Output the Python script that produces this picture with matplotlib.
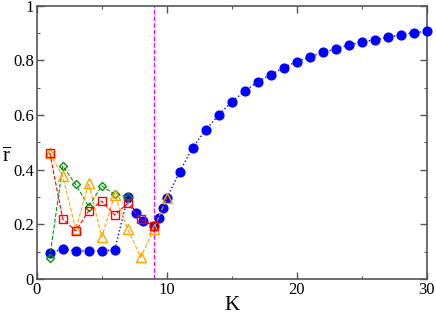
import matplotlib
matplotlib.use('Agg')
import matplotlib.pyplot as plt
from matplotlib.ticker import MultipleLocator

plt.rcParams['font.family'] = ['Liberation Serif', 'DejaVu Serif']
plt.rcParams['mathtext.fontset'] = 'custom'
plt.rcParams['mathtext.rm'] = 'Liberation Serif'
plt.rcParams['mathtext.it'] = 'Liberation Serif:italic'

# order parameter r-bar vs coupling K
k_blue = [1, 2, 3, 4, 5, 6, 7, 7.6, 8.2, 9.0, 9.4, 9.7, 10, 11, 12, 13, 14, 15,
          16, 17, 18, 19, 20, 21, 22, 23, 24, 25, 26, 27, 28, 29, 30]
r_blue = [0.096, 0.109, 0.103, 0.103, 0.103, 0.106, 0.300, 0.242, 0.212, 0.195,
          0.223, 0.261, 0.295, 0.393, 0.481, 0.546, 0.600, 0.648, 0.687, 0.722,
          0.748, 0.773, 0.795, 0.812, 0.829, 0.842, 0.856, 0.867, 0.875, 0.884,
          0.894, 0.901, 0.906]

k_green = [1, 2, 3, 4, 5, 6, 7]
r_green = [0.078, 0.413, 0.346, 0.265, 0.341, 0.310, 0.301]

k_orange = [1, 2, 3, 4, 5, 6, 7, 8, 9, 10]
r_orange = [0.460, 0.377, 0.182, 0.350, 0.153, 0.307, 0.183, 0.079, 0.182, 0.295]

k_red = [1, 2, 3, 4, 5, 6, 7, 8, 9]
r_red = [0.462, 0.220, 0.176, 0.249, 0.285, 0.234, 0.277, 0.218, 0.194]

k_c = 9.05

fig = plt.figure(figsize=(4.36, 3.15), dpi=100)
ax = fig.add_axes([0.0842, 0.1143, 0.8945, 0.8677])

ax.plot(k_blue, r_blue, ':', color='#0000ff', lw=1, marker='o', ms=6.3,
        mfc='#0000ff', mec='#0000ff', clip_on=False, zorder=3)
ax.plot(k_green, r_green, '--', color='#009900', lw=0.8, marker='D', ms=4.4,
        mfc='none', mec='#009900', mew=1, clip_on=False, zorder=4)
ax.plot(k_orange, r_orange, '--', color='#ffa500', lw=0.8, marker='^', ms=6.5,
        mfc='none', mec='#ffa500', mew=1, clip_on=False, zorder=4)
ax.plot(k_red, r_red, '--', color='#ff0000', lw=0.8, marker='s', ms=5.2,
        mfc='none', mec='#ff0000', mew=1, clip_on=False, zorder=5)
ax.axvline(k_c, color='#ff00ff', ls='--', lw=0.9, zorder=2)

ax.set_xlim(0, 30)
ax.set_ylim(0, 1)
ax.xaxis.set_major_locator(MultipleLocator(10))
ax.xaxis.set_minor_locator(MultipleLocator(5))
ax.yaxis.set_major_locator(MultipleLocator(0.2))
ax.yaxis.set_minor_locator(MultipleLocator(0.1))
ax.set_yticks([0, 0.2, 0.4, 0.6, 0.8, 1])
ax.set_yticklabels(['0', '0.2', '0.4', '0.6', '0.8', '1'])

ax.tick_params(which='both', direction='in', top=True, right=True,
               labelsize=12, color='#555555', pad=2)
ax.tick_params(which='major', length=5, width=1)
ax.tick_params(which='minor', length=2.5, width=0.8)
for s in ax.spines.values():
    s.set_color('#555555')
    s.set_linewidth(1.2)

ax.set_xlabel('K', fontsize=15, labelpad=-1)
ax.set_ylabel(r'$\overline{\mathrm{r}}$', fontsize=15, rotation=0)
ax.yaxis.set_label_coords(-0.077, 0.41)

fig.savefig('out.png', dpi=100)
